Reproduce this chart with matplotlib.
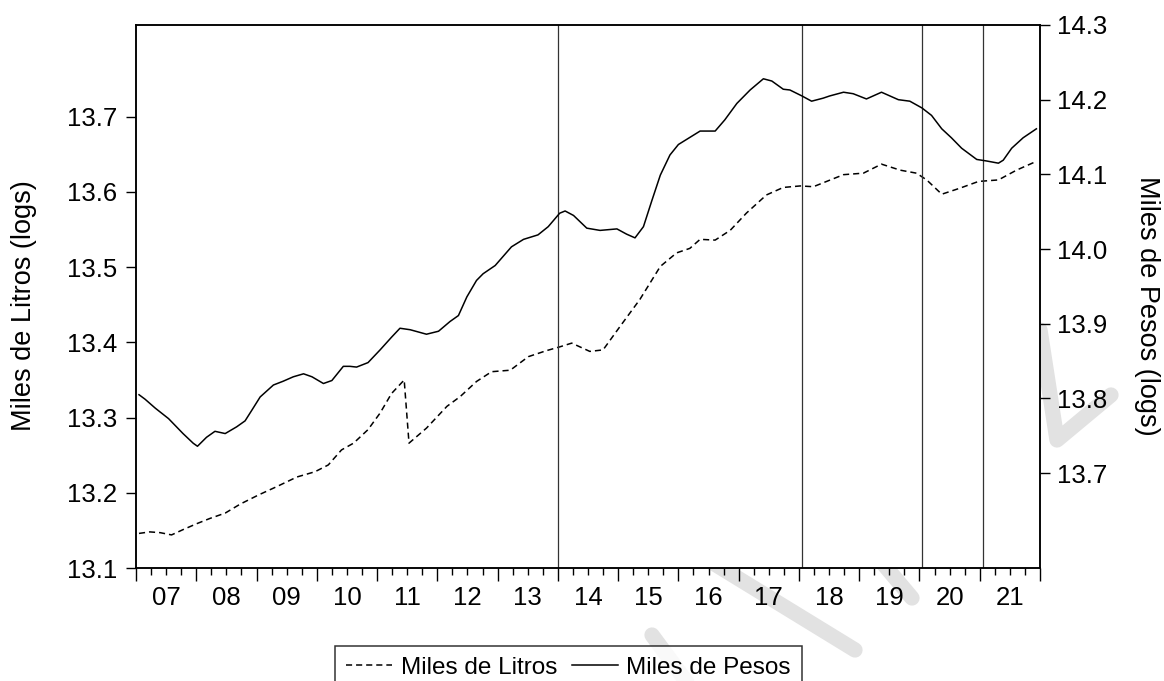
import numpy as np
import matplotlib
matplotlib.use("Agg")
import matplotlib.pyplot as plt
from matplotlib.lines import Line2D

plt.rcParams['font.family'] = ['Liberation Sans', 'DejaVu Sans']

# Miles de Litros (logs) - left axis, dashed
litros_t = [2007.05, 2007.23, 2007.40, 2007.59, 2007.78, 2008.01, 2008.23, 2008.48, 2008.73,
            2009.03, 2009.33, 2009.67, 2009.97, 2010.19, 2010.41, 2010.61, 2010.85,
            2011.05, 2011.24, 2011.45, 2011.53, 2011.82, 2012.16, 2012.38, 2012.65, 2012.90,
            2013.21, 2013.51, 2013.81, 2014.03, 2014.23, 2014.53, 2014.75,
            2015.03, 2015.36, 2015.70, 2015.97, 2016.19, 2016.36, 2016.61, 2016.86,
            2017.13, 2017.46, 2017.74, 2018.02, 2018.24, 2018.49, 2018.74,
            2019.07, 2019.37, 2019.68, 2019.95, 2020.12, 2020.37, 2020.67, 2020.98,
            2021.31, 2021.61, 2021.92]
litros_v = [13.146, 13.148, 13.147, 13.144, 13.151, 13.159, 13.166, 13.173, 13.185,
            13.197, 13.208, 13.221, 13.228, 13.237, 13.257, 13.266, 13.284,
            13.306, 13.332, 13.350, 13.266, 13.286, 13.315, 13.328, 13.348, 13.361,
            13.363, 13.381, 13.389, 13.394, 13.399, 13.388, 13.390,
            13.421, 13.457, 13.501, 13.519, 13.525, 13.537, 13.536, 13.549,
            13.572, 13.596, 13.606, 13.608, 13.607, 13.615, 13.623,
            13.625, 13.637, 13.629, 13.625, 13.616, 13.597, 13.605, 13.614,
            13.616, 13.629, 13.640]

# Miles de Pesos (logs) - right axis, solid
pesos_t = [2007.05, 2007.15, 2007.32, 2007.54, 2007.78, 2007.95, 2008.02, 2008.17, 2008.31,
           2008.48, 2008.67, 2008.81, 2008.92, 2009.06, 2009.28, 2009.44, 2009.61, 2009.78,
           2009.92, 2010.11, 2010.25, 2010.44, 2010.55, 2010.66, 2010.85, 2011.05, 2011.24,
           2011.38, 2011.55, 2011.82, 2012.02, 2012.21, 2012.35, 2012.49, 2012.65, 2012.76,
           2012.96, 2013.23, 2013.43, 2013.67, 2013.84, 2014.03, 2014.12, 2014.26, 2014.48,
           2014.70, 2014.98, 2015.14, 2015.28, 2015.42, 2015.56, 2015.70, 2015.86, 2016.00,
           2016.14, 2016.36, 2016.61, 2016.77, 2016.97, 2017.19, 2017.41, 2017.55, 2017.74,
           2017.85, 2018.05, 2018.21, 2018.40, 2018.51, 2018.74, 2018.90, 2019.12, 2019.37,
           2019.65, 2019.84, 2020.04, 2020.20, 2020.37, 2020.53, 2020.70, 2020.95, 2021.11,
           2021.31, 2021.39, 2021.53, 2021.72, 2021.94]
pesos_v = [13.805, 13.799, 13.787, 13.773, 13.753, 13.740, 13.736, 13.748, 13.756,
           13.753, 13.762, 13.770, 13.784, 13.802, 13.818, 13.823, 13.829, 13.833,
           13.829, 13.820, 13.824, 13.843, 13.843, 13.842, 13.848, 13.865, 13.882,
           13.894, 13.892, 13.886, 13.890, 13.903, 13.911, 13.936, 13.958, 13.967,
           13.978, 14.003, 14.013, 14.019, 14.030, 14.048, 14.051, 14.045, 14.028,
           14.025, 14.027, 14.020, 14.015, 14.030, 14.065, 14.099, 14.126, 14.140,
           14.147, 14.158, 14.158, 14.173, 14.195, 14.213, 14.228, 14.225, 14.214,
           14.213, 14.205, 14.198, 14.202, 14.205, 14.210, 14.208, 14.201, 14.210,
           14.200, 14.198, 14.189, 14.179, 14.161, 14.149, 14.135, 14.120, 14.118,
           14.115, 14.119, 14.135, 14.149, 14.161]

# vertical reference lines (break dates)
vlines = [2014.0, 2018.05, 2020.05, 2021.05]

years = list(range(2007, 2022))
year_labels = ["%02d" % (y % 100) for y in years]

FS = 18.5
W, H = 1164, 681
fig = plt.figure(figsize=(W / 100, H / 100), dpi=100)
ax = fig.add_axes([136 / W, 1 - 568 / H, (1040 - 136) / W, (568 - 25) / H])
ax2 = ax.twinx()

# watermark strokes behind the axes (decoration)
for pts in [[(652, 635), (700, 700)], [(700, 555), (855, 650)], [(880, 560), (912, 598)],
            [(1040, 330), (1057, 440), (1111, 395)]]:
    xs = [p[0] / W for p in pts]
    ys = [1 - p[1] / H for p in pts]
    fig.add_artist(Line2D(xs, ys, transform=fig.transFigure, color='#e2e2e2', lw=11,
                          solid_capstyle='round', solid_joinstyle='round', zorder=-5))

ax.plot(litros_t, litros_v, color='black', lw=1.1, dashes=(4, 2.6), label='Miles de Litros')
ax2.plot(pesos_t, pesos_v, color='black', lw=1.1, label='Miles de Pesos')
for v in vlines:
    ax.axvline(v, color='#333333', lw=0.9)

ax.set_xlim(2007, 2022)
ax.set_ylim(13.1, 13.822)
ax2.set_ylim(13.573, 14.3)
ax.set_yticks(np.round(np.arange(13.1, 13.75, 0.1), 1))
ax2.set_yticks(np.round(np.arange(13.7, 14.35, 0.1), 1))
ax.set_yticklabels(["%.1f" % v for v in ax.get_yticks()])
ax2.set_yticklabels(["%.1f" % v for v in ax2.get_yticks()])

ax.set_xticks(years + [2022])
ax.set_xticklabels([])
ax.set_xticks(np.arange(2007, 2022.01, 0.25), minor=True)
ax.tick_params(axis='x', which='major', length=9, width=1, direction='out')
ax.tick_params(axis='x', which='minor', length=5, width=1, direction='out')
ax.tick_params(axis='y', length=7.5, width=1, direction='out', labelsize=FS, pad=6)
ax2.tick_params(axis='y', length=7.5, width=1, direction='out', labelsize=FS, pad=5)

for y, lab in zip(years, year_labels):
    ax.text(y + 0.5, -0.056, lab, transform=ax.get_xaxis_transform(), ha='center',
            va='center', fontsize=FS)

for a in (ax, ax2):
    for s in a.spines.values():
        s.set_linewidth(1.1)

fig.text(24 / W, 1 - 306 / H, 'Miles de Litros (logs)', rotation=90, ha='center',
         va='center', fontsize=19.5)
fig.text(1147 / W, 1 - 306 / H, 'Miles de Pesos (logs)', rotation=270, ha='center',
         va='center', fontsize=19.5)

h1, l1 = ax.get_legend_handles_labels()
h2, l2 = ax2.get_legend_handles_labels()
leg = fig.legend(h1 + h2, l1 + l2, loc='upper center', bbox_to_anchor=(568.5 / W, 1 - 646 / H),
                 ncol=2, fontsize=17.5, frameon=True, fancybox=False, edgecolor='black',
                 handlelength=1.9, handletextpad=0.35, columnspacing=0.6, borderpad=0.45,
                 borderaxespad=0)
leg.get_frame().set_linewidth(1.1)

fig.savefig('out.png', dpi=100)
